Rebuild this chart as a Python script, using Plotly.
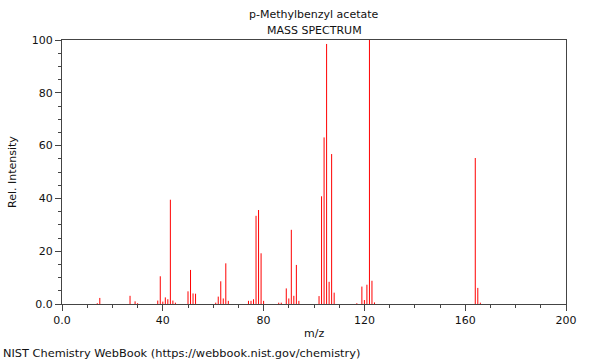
import plotly.graph_objects as go

# m/z values and relative intensities
mz = [14, 15, 27, 29, 30, 38, 39, 40, 41, 42, 43, 44, 45,
      50, 51, 52, 53, 61, 62, 63, 64, 65, 66,
      74, 75, 76, 77, 78, 79, 80, 86, 87,
      89, 90, 91, 92, 93, 94,
      102, 103, 104, 105, 106, 107, 108,
      117, 119, 120, 121, 122, 123, 124,
      164, 165, 166]
intensity = [0.3, 2.3, 3.1, 1.0, 0.3, 1.3, 10.5, 0.9, 2.5, 1.8, 39.5, 1.3, 0.5,
             4.8, 12.9, 4.0, 3.9, 0.5, 2.8, 8.6, 2.1, 15.4, 1.2,
             1.2, 1.2, 1.8, 33.4, 35.6, 19.2, 1.2, 0.5, 0.5,
             5.9, 2.1, 28.1, 3.1, 14.8, 1.2,
             3.0, 40.8, 63.1, 98.5, 8.4, 56.8, 4.3,
             0.3, 6.6, 1.5, 7.3, 100.0, 8.8, 0.6,
             55.3, 6.1, 0.5]

x_tickvals = [0, 40, 80, 120, 160, 200]
x_ticktext = ["0.0", "40", "80", "120", "160", "200"]
y_tickvals = [0, 20, 40, 60, 80, 100]
y_ticktext = ["0.0", "20", "40", "60", "80", "100"]

xs, ys = [], []
for m, v in zip(mz, intensity):
    xs += [m, m, None]
    ys += [0, v, None]

FONT = "DejaVu Sans"
AX = "#444444"

fig = go.Figure()
fig.add_trace(go.Scatter(x=xs, y=ys, mode="lines",
                         line=dict(color="rgb(255,0,0)", width=1),
                         hoverinfo="skip", showlegend=False))

fig.update_layout(
    width=600, height=360,
    margin=dict(l=62, r=34, t=40, b=56),
    paper_bgcolor="white", plot_bgcolor="white",
    font=dict(family=FONT, size=11, color="#111111"),
    showlegend=False,
    xaxis=dict(range=[0, 200], tickvals=x_tickvals, ticktext=x_ticktext,
               ticks="outside", ticklen=6, tickcolor=AX, tickwidth=1,
               minor=dict(dtick=10, tick0=0, ticks="outside", ticklen=3, tickcolor=AX),
               showline=True, linecolor=AX, linewidth=1, mirror=True,
               showgrid=False, zeroline=False, fixedrange=True),
    yaxis=dict(range=[0, 100], tickvals=y_tickvals, ticktext=y_ticktext,
               ticks="outside", ticklen=6, tickcolor=AX, tickwidth=1,
               minor=dict(dtick=5, tick0=0, ticks="outside", ticklen=3, tickcolor=AX),
               showline=True, linecolor=AX, linewidth=1, mirror=True,
               showgrid=False, zeroline=False, fixedrange=True),
    annotations=[
        dict(text="p-Methylbenzyl acetate", xref="paper", yref="paper",
             x=0.5, y=1 + 26 / 264, xanchor="center", yanchor="middle",
             showarrow=False, font=dict(size=11)),
        dict(text="MASS SPECTRUM", xref="paper", yref="paper",
             x=0.5, y=1 + 10 / 264, xanchor="center", yanchor="middle",
             showarrow=False, font=dict(size=11)),
        dict(text="m/z", xref="paper", yref="paper",
             x=0.5, y=-29 / 264, xanchor="center", yanchor="middle",
             showarrow=False, font=dict(size=11)),
        dict(text="Rel. Intensity", xref="paper", yref="paper",
             x=-50 / 504, y=0.5, xanchor="center", yanchor="middle",
             textangle=-90, showarrow=False, font=dict(size=11)),
        dict(text="NIST Chemistry WebBook (https://webbook.nist.gov/chemistry)",
             xref="paper", yref="paper",
             x=-61 / 504, y=-49 / 264, xanchor="left", yanchor="middle",
             showarrow=False, font=dict(size=11.35)),
    ],
)

fig.write_html("out.html", config={"displayModeBar": False},
               post_script="document.body.style.margin='0';document.body.style.overflow='hidden';")
